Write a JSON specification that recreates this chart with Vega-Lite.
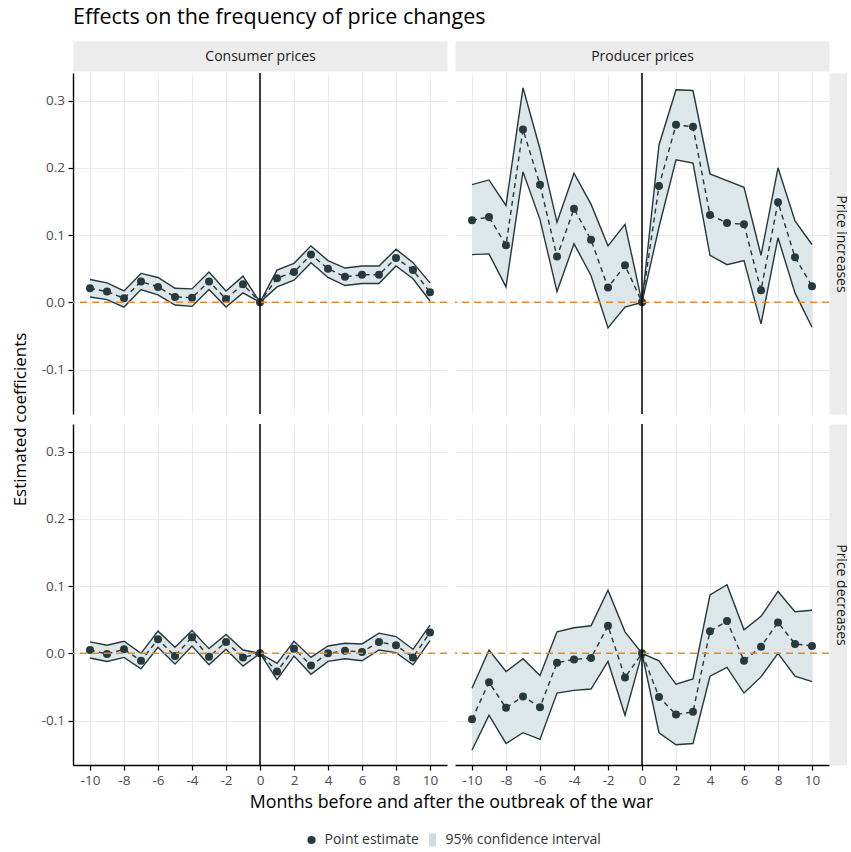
{
  "$schema": "https://vega.github.io/schema/vega-lite/v6.json",
  "padding": {"left": 11, "top": 6, "right": 0, "bottom": 0},
  "title": {"text": "Effects on the frequency of price changes", "anchor": "start", "frame": "group", "fontSize": 21.5, "fontWeight": "normal", "color": "#000000", "offset": 21},
  "config": {
    "font": "Open Sans",
    "view": {"stroke": null},
    "axis": {"gridColor": "#ebebeb", "gridWidth": 1.1, "domainColor": "#000000", "domainWidth": 1.4, "tickColor": "#000000", "tickWidth": 1.2, "tickSize": 5, "labelColor": "#4d4d4d", "labelFontSize": 13.5, "labelPadding": 3.5, "labelOverlap": false}
  },
  "datasets": {
    "coef": [
      {"prices": "Consumer prices", "change": "Price increases", "month": -10, "estimate": 0.021, "lower": 0.008, "upper": 0.034},
      {"prices": "Consumer prices", "change": "Price increases", "month": -9, "estimate": 0.016, "lower": 0.004, "upper": 0.029},
      {"prices": "Consumer prices", "change": "Price increases", "month": -8, "estimate": 0.006, "lower": -0.007, "upper": 0.017},
      {"prices": "Consumer prices", "change": "Price increases", "month": -7, "estimate": 0.031, "lower": 0.019, "upper": 0.043},
      {"prices": "Consumer prices", "change": "Price increases", "month": -6, "estimate": 0.023, "lower": 0.011, "upper": 0.037},
      {"prices": "Consumer prices", "change": "Price increases", "month": -5, "estimate": 0.008, "lower": -0.004, "upper": 0.021},
      {"prices": "Consumer prices", "change": "Price increases", "month": -4, "estimate": 0.007, "lower": -0.006, "upper": 0.020},
      {"prices": "Consumer prices", "change": "Price increases", "month": -3, "estimate": 0.031, "lower": 0.019, "upper": 0.045},
      {"prices": "Consumer prices", "change": "Price increases", "month": -2, "estimate": 0.005, "lower": -0.007, "upper": 0.017},
      {"prices": "Consumer prices", "change": "Price increases", "month": -1, "estimate": 0.027, "lower": 0.014, "upper": 0.039},
      {"prices": "Consumer prices", "change": "Price increases", "month": 0, "estimate": 0, "lower": 0, "upper": 0},
      {"prices": "Consumer prices", "change": "Price increases", "month": 1, "estimate": 0.036, "lower": 0.023, "upper": 0.048},
      {"prices": "Consumer prices", "change": "Price increases", "month": 2, "estimate": 0.045, "lower": 0.033, "upper": 0.058},
      {"prices": "Consumer prices", "change": "Price increases", "month": 3, "estimate": 0.071, "lower": 0.059, "upper": 0.084},
      {"prices": "Consumer prices", "change": "Price increases", "month": 4, "estimate": 0.050, "lower": 0.037, "upper": 0.062},
      {"prices": "Consumer prices", "change": "Price increases", "month": 5, "estimate": 0.038, "lower": 0.025, "upper": 0.051},
      {"prices": "Consumer prices", "change": "Price increases", "month": 6, "estimate": 0.041, "lower": 0.028, "upper": 0.054},
      {"prices": "Consumer prices", "change": "Price increases", "month": 7, "estimate": 0.041, "lower": 0.028, "upper": 0.054},
      {"prices": "Consumer prices", "change": "Price increases", "month": 8, "estimate": 0.066, "lower": 0.054, "upper": 0.079},
      {"prices": "Consumer prices", "change": "Price increases", "month": 9, "estimate": 0.048, "lower": 0.035, "upper": 0.059},
      {"prices": "Consumer prices", "change": "Price increases", "month": 10, "estimate": 0.015, "lower": 0.002, "upper": 0.029},
      {"prices": "Producer prices", "change": "Price increases", "month": -10, "estimate": 0.122, "lower": 0.071, "upper": 0.175},
      {"prices": "Producer prices", "change": "Price increases", "month": -9, "estimate": 0.127, "lower": 0.072, "upper": 0.182},
      {"prices": "Producer prices", "change": "Price increases", "month": -8, "estimate": 0.085, "lower": 0.023, "upper": 0.144},
      {"prices": "Producer prices", "change": "Price increases", "month": -7, "estimate": 0.257, "lower": 0.194, "upper": 0.319},
      {"prices": "Producer prices", "change": "Price increases", "month": -6, "estimate": 0.175, "lower": 0.123, "upper": 0.228},
      {"prices": "Producer prices", "change": "Price increases", "month": -5, "estimate": 0.068, "lower": 0.016, "upper": 0.119},
      {"prices": "Producer prices", "change": "Price increases", "month": -4, "estimate": 0.139, "lower": 0.087, "upper": 0.192},
      {"prices": "Producer prices", "change": "Price increases", "month": -3, "estimate": 0.093, "lower": 0.040, "upper": 0.146},
      {"prices": "Producer prices", "change": "Price increases", "month": -2, "estimate": 0.022, "lower": -0.038, "upper": 0.084},
      {"prices": "Producer prices", "change": "Price increases", "month": -1, "estimate": 0.055, "lower": -0.007, "upper": 0.116},
      {"prices": "Producer prices", "change": "Price increases", "month": 0, "estimate": 0, "lower": 0, "upper": 0},
      {"prices": "Producer prices", "change": "Price increases", "month": 1, "estimate": 0.173, "lower": 0.112, "upper": 0.234},
      {"prices": "Producer prices", "change": "Price increases", "month": 2, "estimate": 0.264, "lower": 0.212, "upper": 0.316},
      {"prices": "Producer prices", "change": "Price increases", "month": 3, "estimate": 0.261, "lower": 0.207, "upper": 0.315},
      {"prices": "Producer prices", "change": "Price increases", "month": 4, "estimate": 0.130, "lower": 0.070, "upper": 0.191},
      {"prices": "Producer prices", "change": "Price increases", "month": 5, "estimate": 0.118, "lower": 0.056, "upper": 0.181},
      {"prices": "Producer prices", "change": "Price increases", "month": 6, "estimate": 0.116, "lower": 0.062, "upper": 0.171},
      {"prices": "Producer prices", "change": "Price increases", "month": 7, "estimate": 0.018, "lower": -0.032, "upper": 0.070},
      {"prices": "Producer prices", "change": "Price increases", "month": 8, "estimate": 0.149, "lower": 0.096, "upper": 0.200},
      {"prices": "Producer prices", "change": "Price increases", "month": 9, "estimate": 0.067, "lower": 0.014, "upper": 0.121},
      {"prices": "Producer prices", "change": "Price increases", "month": 10, "estimate": 0.024, "lower": -0.037, "upper": 0.086},
      {"prices": "Consumer prices", "change": "Price decreases", "month": -10, "estimate": 0.005, "lower": -0.007, "upper": 0.017},
      {"prices": "Consumer prices", "change": "Price decreases", "month": -9, "estimate": -0.001, "lower": -0.012, "upper": 0.012},
      {"prices": "Consumer prices", "change": "Price decreases", "month": -8, "estimate": 0.006, "lower": -0.006, "upper": 0.018},
      {"prices": "Consumer prices", "change": "Price decreases", "month": -7, "estimate": -0.011, "lower": -0.023, "upper": 0.000},
      {"prices": "Consumer prices", "change": "Price decreases", "month": -6, "estimate": 0.021, "lower": 0.009, "upper": 0.033},
      {"prices": "Consumer prices", "change": "Price decreases", "month": -5, "estimate": -0.004, "lower": -0.016, "upper": 0.009},
      {"prices": "Consumer prices", "change": "Price decreases", "month": -4, "estimate": 0.024, "lower": 0.011, "upper": 0.034},
      {"prices": "Consumer prices", "change": "Price decreases", "month": -3, "estimate": -0.005, "lower": -0.017, "upper": 0.007},
      {"prices": "Consumer prices", "change": "Price decreases", "month": -2, "estimate": 0.017, "lower": 0.006, "upper": 0.028},
      {"prices": "Consumer prices", "change": "Price decreases", "month": -1, "estimate": -0.006, "lower": -0.019, "upper": 0.005},
      {"prices": "Consumer prices", "change": "Price decreases", "month": 0, "estimate": 0, "lower": 0, "upper": 0},
      {"prices": "Consumer prices", "change": "Price decreases", "month": 1, "estimate": -0.027, "lower": -0.039, "upper": -0.015},
      {"prices": "Consumer prices", "change": "Price decreases", "month": 2, "estimate": 0.007, "lower": -0.004, "upper": 0.018},
      {"prices": "Consumer prices", "change": "Price decreases", "month": 3, "estimate": -0.018, "lower": -0.031, "upper": -0.006},
      {"prices": "Consumer prices", "change": "Price decreases", "month": 4, "estimate": 0.000, "lower": -0.012, "upper": 0.011},
      {"prices": "Consumer prices", "change": "Price decreases", "month": 5, "estimate": 0.004, "lower": -0.008, "upper": 0.015},
      {"prices": "Consumer prices", "change": "Price decreases", "month": 6, "estimate": 0.002, "lower": -0.011, "upper": 0.014},
      {"prices": "Consumer prices", "change": "Price decreases", "month": 7, "estimate": 0.017, "lower": 0.005, "upper": 0.030},
      {"prices": "Consumer prices", "change": "Price decreases", "month": 8, "estimate": 0.012, "lower": 0.001, "upper": 0.025},
      {"prices": "Consumer prices", "change": "Price decreases", "month": 9, "estimate": -0.006, "lower": -0.017, "upper": 0.006},
      {"prices": "Consumer prices", "change": "Price decreases", "month": 10, "estimate": 0.031, "lower": 0.019, "upper": 0.042},
      {"prices": "Producer prices", "change": "Price decreases", "month": -10, "estimate": -0.098, "lower": -0.144, "upper": -0.052},
      {"prices": "Producer prices", "change": "Price decreases", "month": -9, "estimate": -0.043, "lower": -0.092, "upper": 0.005},
      {"prices": "Producer prices", "change": "Price decreases", "month": -8, "estimate": -0.081, "lower": -0.134, "upper": -0.027},
      {"prices": "Producer prices", "change": "Price decreases", "month": -7, "estimate": -0.064, "lower": -0.118, "upper": -0.008},
      {"prices": "Producer prices", "change": "Price decreases", "month": -6, "estimate": -0.080, "lower": -0.128, "upper": -0.033},
      {"prices": "Producer prices", "change": "Price decreases", "month": -5, "estimate": -0.014, "lower": -0.059, "upper": 0.032},
      {"prices": "Producer prices", "change": "Price decreases", "month": -4, "estimate": -0.009, "lower": -0.055, "upper": 0.038},
      {"prices": "Producer prices", "change": "Price decreases", "month": -3, "estimate": -0.007, "lower": -0.053, "upper": 0.041},
      {"prices": "Producer prices", "change": "Price decreases", "month": -2, "estimate": 0.041, "lower": -0.012, "upper": 0.094},
      {"prices": "Producer prices", "change": "Price decreases", "month": -1, "estimate": -0.036, "lower": -0.092, "upper": 0.032},
      {"prices": "Producer prices", "change": "Price decreases", "month": 0, "estimate": 0, "lower": 0, "upper": 0},
      {"prices": "Producer prices", "change": "Price decreases", "month": 1, "estimate": -0.065, "lower": -0.118, "upper": -0.011},
      {"prices": "Producer prices", "change": "Price decreases", "month": 2, "estimate": -0.091, "lower": -0.136, "upper": -0.046},
      {"prices": "Producer prices", "change": "Price decreases", "month": 3, "estimate": -0.087, "lower": -0.134, "upper": -0.038},
      {"prices": "Producer prices", "change": "Price decreases", "month": 4, "estimate": 0.033, "lower": -0.034, "upper": 0.087},
      {"prices": "Producer prices", "change": "Price decreases", "month": 5, "estimate": 0.048, "lower": -0.021, "upper": 0.102},
      {"prices": "Producer prices", "change": "Price decreases", "month": 6, "estimate": -0.011, "lower": -0.059, "upper": 0.035},
      {"prices": "Producer prices", "change": "Price decreases", "month": 7, "estimate": 0.010, "lower": -0.035, "upper": 0.055},
      {"prices": "Producer prices", "change": "Price decreases", "month": 8, "estimate": 0.046, "lower": 0.000, "upper": 0.092},
      {"prices": "Producer prices", "change": "Price decreases", "month": 9, "estimate": 0.014, "lower": -0.034, "upper": 0.062},
      {"prices": "Producer prices", "change": "Price decreases", "month": 10, "estimate": 0.011, "lower": -0.042, "upper": 0.064}
    ]
  },
  "bounds": "flush",
  "columns": 2,
  "spacing": {"row": 10, "column": 8},
  "concat": [
    {
      "width": 374, "height": 341,
      "layer": [
        {
          "data": {"name": "coef"},
          "transform": [{"filter": "datum.prices === 'Consumer prices' && datum.change === 'Price increases'"}],
          "layer": [
            {"mark": {"type": "area", "color": "#dde6e8", "opacity": 1},
             "encoding": {
               "x": {"field": "month", "type": "quantitative", "scale": {"domain": [-11, 11], "nice": false, "zero": false},
                     "axis": {"orient": "top", "values": [-10, -8, -6, -4, -2, 0, 2, 4, 6, 8, 10], "tickCount": 30, "labels": false, "ticks": false, "grid": true, "domain": true, "domainColor": "#ececec", "domainWidth": 30, "offset": 17, "title": "Consumer prices", "titleX": 187, "titleY": 0, "titleBaseline": "middle", "titleAlign": "center", "titleAngle": 0, "titleFontSize": 14, "titleFontWeight": "normal", "titleColor": "#1a1a1a"}},
               "y": {"field": "lower", "type": "quantitative", "scale": {"domain": [-0.166, 0.341], "nice": false, "zero": false},
                     "axis": {"values": [-0.1, 0, 0.1, 0.2, 0.3], "tickCount": 20, "grid": true, "labelOverlap": false, "labelExpr": "replace(format(datum.value, '.1f'), '\u2212', '-')", "title": "Estimated coefficients", "titleX": -53, "titleY": 346, "titleAngle": 270, "titleBaseline": "middle", "titleAlign": "center", "titleFontSize": 17, "titleFontWeight": "normal", "titleColor": "#000000"}},
               "y2": {"field": "upper"}}},
            {"mark": {"type": "line", "color": "#25373a", "strokeWidth": 1.4},
             "encoding": {"x": {"field": "month", "type": "quantitative"}, "y": {"field": "lower", "type": "quantitative"}}},
            {"mark": {"type": "line", "color": "#25373a", "strokeWidth": 1.4},
             "encoding": {"x": {"field": "month", "type": "quantitative"}, "y": {"field": "upper", "type": "quantitative"}}},
            {"mark": {"type": "line", "color": "#25373a", "strokeWidth": 1.4, "strokeDash": [5, 4]},
             "encoding": {"x": {"field": "month", "type": "quantitative"}, "y": {"field": "estimate", "type": "quantitative"}}},
            {"mark": {"type": "point", "filled": true, "size": 64, "opacity": 1},
             "encoding": {"x": {"field": "month", "type": "quantitative"}, "y": {"field": "estimate", "type": "quantitative"},
               "color": {"datum": "Point estimate", "type": "nominal", "scale": {"domain": ["Point estimate", "95% confidence interval"], "range": ["#263a3d", "#cfdbdf"]}, "legend": {"title": null, "orient": "none", "legendX": 231.5, "legendY": 760, "direction": "horizontal", "labelFontSize": 14, "labelColor": "#333333", "symbolSize": 66, "symbolStrokeWidth": 0, "columnPadding": 6, "labelOffset": 6, "padding": 0}},
               "shape": {"datum": "Point estimate", "type": "nominal", "scale": {"domain": ["Point estimate", "95% confidence interval"], "range": ["circle", "M-0.85,-1.6H0.85V1.6H-0.85Z"]}, "legend": {"title": null, "orient": "none", "legendX": 231.5, "legendY": 760, "direction": "horizontal", "labelFontSize": 14, "labelColor": "#333333", "symbolSize": 66, "symbolStrokeWidth": 0, "columnPadding": 6, "labelOffset": 6, "padding": 0}}}}
          ]
        },
        {
          "data": {"values": [{"ref": 0}]},
          "layer": [
            {"mark": {"type": "rule", "color": "#e8892b", "strokeWidth": 1.5, "strokeDash": [7, 5]}, "encoding": {"y": {"field": "ref", "type": "quantitative"}}},
            {"mark": {"type": "rule", "color": "#000000", "strokeWidth": 1.5}, "encoding": {"x": {"field": "ref", "type": "quantitative"}}}
          ]
        }
      ]
    },
    {
      "width": 374, "height": 341,
      "layer": [
        {
          "data": {"name": "coef"},
          "transform": [{"filter": "datum.prices === 'Producer prices' && datum.change === 'Price increases'"}],
          "layer": [
            {"mark": {"type": "area", "color": "#dde6e8", "opacity": 1},
             "encoding": {
               "x": {"field": "month", "type": "quantitative", "scale": {"domain": [-11, 11], "nice": false, "zero": false},
                     "axis": {"orient": "top", "values": [-10, -8, -6, -4, -2, 0, 2, 4, 6, 8, 10], "tickCount": 30, "labels": false, "ticks": false, "grid": true, "domain": true, "domainColor": "#ececec", "domainWidth": 30, "offset": 17, "title": "Producer prices", "titleX": 187, "titleY": 0, "titleBaseline": "middle", "titleAlign": "center", "titleAngle": 0, "titleFontSize": 14, "titleFontWeight": "normal", "titleColor": "#1a1a1a"}},
               "y": {"field": "lower", "type": "quantitative", "scale": {"domain": [-0.166, 0.341], "nice": false, "zero": false},
                     "axis": {"orient": "right", "values": [-0.1, 0, 0.1, 0.2, 0.3], "tickCount": 20, "labels": false, "ticks": false, "grid": true, "domain": true, "domainColor": "#ececec", "domainWidth": 22, "offset": 11, "title": "Price increases", "titleX": 0, "titleY": 170.5, "titleAngle": 90, "titleBaseline": "middle", "titleAlign": "center", "titleFontSize": 14, "titleFontWeight": "normal", "titleColor": "#1a1a1a"}},
               "y2": {"field": "upper"}}},
            {"mark": {"type": "line", "color": "#25373a", "strokeWidth": 1.4},
             "encoding": {"x": {"field": "month", "type": "quantitative"}, "y": {"field": "lower", "type": "quantitative"}}},
            {"mark": {"type": "line", "color": "#25373a", "strokeWidth": 1.4},
             "encoding": {"x": {"field": "month", "type": "quantitative"}, "y": {"field": "upper", "type": "quantitative"}}},
            {"mark": {"type": "line", "color": "#25373a", "strokeWidth": 1.4, "strokeDash": [5, 4]},
             "encoding": {"x": {"field": "month", "type": "quantitative"}, "y": {"field": "estimate", "type": "quantitative"}}},
            {"mark": {"type": "point", "filled": true, "size": 64, "opacity": 1},
             "encoding": {"x": {"field": "month", "type": "quantitative"}, "y": {"field": "estimate", "type": "quantitative"},
               "color": {"datum": "Point estimate", "type": "nominal", "scale": {"domain": ["Point estimate", "95% confidence interval"], "range": ["#263a3d", "#cfdbdf"]}, "legend": {"title": null, "orient": "none", "legendX": 231.5, "legendY": 760, "direction": "horizontal", "labelFontSize": 14, "labelColor": "#333333", "symbolSize": 66, "symbolStrokeWidth": 0, "columnPadding": 6, "labelOffset": 6, "padding": 0}},
               "shape": {"datum": "Point estimate", "type": "nominal", "scale": {"domain": ["Point estimate", "95% confidence interval"], "range": ["circle", "M-0.85,-1.6H0.85V1.6H-0.85Z"]}, "legend": {"title": null, "orient": "none", "legendX": 231.5, "legendY": 760, "direction": "horizontal", "labelFontSize": 14, "labelColor": "#333333", "symbolSize": 66, "symbolStrokeWidth": 0, "columnPadding": 6, "labelOffset": 6, "padding": 0}}}}
          ]
        },
        {
          "data": {"values": [{"ref": 0}]},
          "layer": [
            {"mark": {"type": "rule", "color": "#e8892b", "strokeWidth": 1.5, "strokeDash": [7, 5]}, "encoding": {"y": {"field": "ref", "type": "quantitative"}}},
            {"mark": {"type": "rule", "color": "#000000", "strokeWidth": 1.5}, "encoding": {"x": {"field": "ref", "type": "quantitative"}}}
          ]
        }
      ]
    },
    {
      "width": 374, "height": 341,
      "layer": [
        {
          "data": {"name": "coef"},
          "transform": [{"filter": "datum.prices === 'Consumer prices' && datum.change === 'Price decreases'"}],
          "layer": [
            {"mark": {"type": "area", "color": "#dde6e8", "opacity": 1},
             "encoding": {
               "x": {"field": "month", "type": "quantitative", "scale": {"domain": [-11, 11], "nice": false, "zero": false},
                     "axis": {"values": [-10, -8, -6, -4, -2, 0, 2, 4, 6, 8, 10], "tickCount": 30, "grid": true, "labelOverlap": false, "labelFlush": false, "labelExpr": "replace(format(datum.value, 'd'), '\u2212', '-')", "title": "Months before and after the outbreak of the war", "titleX": 378, "titleY": 37, "titleBaseline": "middle", "titleAlign": "center", "titleFontSize": 17.8, "titleFontWeight": "normal", "titleColor": "#000000"}},
               "y": {"field": "lower", "type": "quantitative", "scale": {"domain": [-0.166, 0.341], "nice": false, "zero": false},
                     "axis": {"values": [-0.1, 0, 0.1, 0.2, 0.3], "tickCount": 20, "grid": true, "labelOverlap": false, "labelExpr": "replace(format(datum.value, '.1f'), '\u2212', '-')", "title": null}},
               "y2": {"field": "upper"}}},
            {"mark": {"type": "line", "color": "#25373a", "strokeWidth": 1.4},
             "encoding": {"x": {"field": "month", "type": "quantitative"}, "y": {"field": "lower", "type": "quantitative"}}},
            {"mark": {"type": "line", "color": "#25373a", "strokeWidth": 1.4},
             "encoding": {"x": {"field": "month", "type": "quantitative"}, "y": {"field": "upper", "type": "quantitative"}}},
            {"mark": {"type": "line", "color": "#25373a", "strokeWidth": 1.4, "strokeDash": [5, 4]},
             "encoding": {"x": {"field": "month", "type": "quantitative"}, "y": {"field": "estimate", "type": "quantitative"}}},
            {"mark": {"type": "point", "filled": true, "size": 64, "opacity": 1},
             "encoding": {"x": {"field": "month", "type": "quantitative"}, "y": {"field": "estimate", "type": "quantitative"},
               "color": {"datum": "Point estimate", "type": "nominal", "scale": {"domain": ["Point estimate", "95% confidence interval"], "range": ["#263a3d", "#cfdbdf"]}, "legend": {"title": null, "orient": "none", "legendX": 231.5, "legendY": 760, "direction": "horizontal", "labelFontSize": 14, "labelColor": "#333333", "symbolSize": 66, "symbolStrokeWidth": 0, "columnPadding": 6, "labelOffset": 6, "padding": 0}},
               "shape": {"datum": "Point estimate", "type": "nominal", "scale": {"domain": ["Point estimate", "95% confidence interval"], "range": ["circle", "M-0.85,-1.6H0.85V1.6H-0.85Z"]}, "legend": {"title": null, "orient": "none", "legendX": 231.5, "legendY": 760, "direction": "horizontal", "labelFontSize": 14, "labelColor": "#333333", "symbolSize": 66, "symbolStrokeWidth": 0, "columnPadding": 6, "labelOffset": 6, "padding": 0}}}}
          ]
        },
        {
          "data": {"values": [{"ref": 0}]},
          "layer": [
            {"mark": {"type": "rule", "color": "#e8892b", "strokeWidth": 1.5, "strokeDash": [7, 5]}, "encoding": {"y": {"field": "ref", "type": "quantitative"}}},
            {"mark": {"type": "rule", "color": "#000000", "strokeWidth": 1.5}, "encoding": {"x": {"field": "ref", "type": "quantitative"}}}
          ]
        }
      ]
    },
    {
      "width": 374, "height": 341,
      "layer": [
        {
          "data": {"name": "coef"},
          "transform": [{"filter": "datum.prices === 'Producer prices' && datum.change === 'Price decreases'"}],
          "layer": [
            {"mark": {"type": "area", "color": "#dde6e8", "opacity": 1},
             "encoding": {
               "x": {"field": "month", "type": "quantitative", "scale": {"domain": [-11, 11], "nice": false, "zero": false},
                     "axis": {"values": [-10, -8, -6, -4, -2, 0, 2, 4, 6, 8, 10], "tickCount": 30, "grid": true, "labelOverlap": false, "labelFlush": false, "labelExpr": "replace(format(datum.value, 'd'), '\u2212', '-')", "title": null}},
               "y": {"field": "lower", "type": "quantitative", "scale": {"domain": [-0.166, 0.341], "nice": false, "zero": false},
                     "axis": {"orient": "right", "values": [-0.1, 0, 0.1, 0.2, 0.3], "tickCount": 20, "labels": false, "ticks": false, "grid": true, "domain": true, "domainColor": "#ececec", "domainWidth": 22, "offset": 11, "title": "Price decreases", "titleX": 0, "titleY": 170.5, "titleAngle": 90, "titleBaseline": "middle", "titleAlign": "center", "titleFontSize": 14, "titleFontWeight": "normal", "titleColor": "#1a1a1a"}},
               "y2": {"field": "upper"}}},
            {"mark": {"type": "line", "color": "#25373a", "strokeWidth": 1.4},
             "encoding": {"x": {"field": "month", "type": "quantitative"}, "y": {"field": "lower", "type": "quantitative"}}},
            {"mark": {"type": "line", "color": "#25373a", "strokeWidth": 1.4},
             "encoding": {"x": {"field": "month", "type": "quantitative"}, "y": {"field": "upper", "type": "quantitative"}}},
            {"mark": {"type": "line", "color": "#25373a", "strokeWidth": 1.4, "strokeDash": [5, 4]},
             "encoding": {"x": {"field": "month", "type": "quantitative"}, "y": {"field": "estimate", "type": "quantitative"}}},
            {"mark": {"type": "point", "filled": true, "size": 64, "opacity": 1},
             "encoding": {"x": {"field": "month", "type": "quantitative"}, "y": {"field": "estimate", "type": "quantitative"},
               "color": {"datum": "Point estimate", "type": "nominal", "scale": {"domain": ["Point estimate", "95% confidence interval"], "range": ["#263a3d", "#cfdbdf"]}, "legend": {"title": null, "orient": "none", "legendX": 231.5, "legendY": 760, "direction": "horizontal", "labelFontSize": 14, "labelColor": "#333333", "symbolSize": 66, "symbolStrokeWidth": 0, "columnPadding": 6, "labelOffset": 6, "padding": 0}},
               "shape": {"datum": "Point estimate", "type": "nominal", "scale": {"domain": ["Point estimate", "95% confidence interval"], "range": ["circle", "M-0.85,-1.6H0.85V1.6H-0.85Z"]}, "legend": {"title": null, "orient": "none", "legendX": 231.5, "legendY": 760, "direction": "horizontal", "labelFontSize": 14, "labelColor": "#333333", "symbolSize": 66, "symbolStrokeWidth": 0, "columnPadding": 6, "labelOffset": 6, "padding": 0}}}}
          ]
        },
        {
          "data": {"values": [{"ref": 0}]},
          "layer": [
            {"mark": {"type": "rule", "color": "#e8892b", "strokeWidth": 1.5, "strokeDash": [7, 5]}, "encoding": {"y": {"field": "ref", "type": "quantitative"}}},
            {"mark": {"type": "rule", "color": "#000000", "strokeWidth": 1.5}, "encoding": {"x": {"field": "ref", "type": "quantitative"}}}
          ]
        }
      ]
    }
  ]
}
